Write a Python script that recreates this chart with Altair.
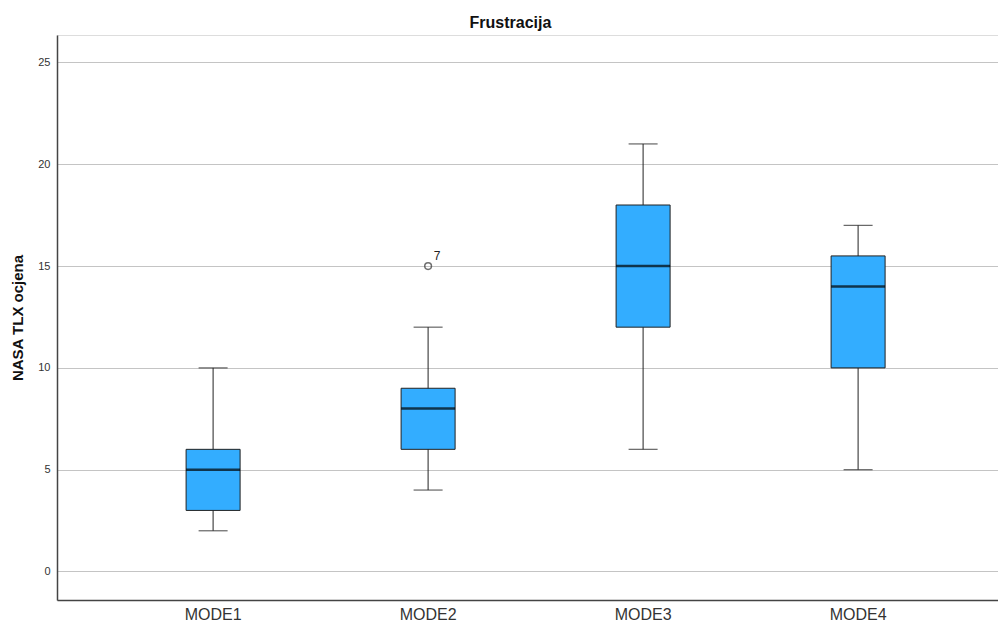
import altair as alt
import pandas as pd

modes = ["MODE1", "MODE2", "MODE3", "MODE4"]
whisker_low = [2, 4, 6, 5]
q1 = [3, 6, 12, 10]
median = [5, 8, 15, 14]
q3 = [6, 9, 18, 15.5]
whisker_high = [10, 12, 21, 17]

outlier_mode = ["MODE2"]
outlier_value = [15]
outlier_label = ["7"]

box = pd.DataFrame({"mode": modes, "low": whisker_low, "q1": q1, "med": median,
                    "q3": q3, "high": whisker_high})
out = pd.DataFrame({"mode": outlier_mode, "v": outlier_value, "lab": outlier_label})

FONT = "Liberation Sans"
W, H = 941, 565

xscale = alt.Scale(domain=modes, paddingInner=0, paddingOuter=0.1884, align=0.6)
yscale = alt.Scale(domain=[-1.4, 26.35], nice=False, zero=False)

x = alt.X("mode:N", scale=xscale, sort=modes,
          axis=alt.Axis(title=None, labelAngle=0, labelFontSize=16, labelColor="#333333",
                        labelFont=FONT, ticks=False, labelPadding=6,
                        domainColor="#444444", domainWidth=1.5, grid=False))
y_axis = alt.Axis(title="NASA TLX ocjena", values=[0, 5, 10, 15, 20, 25], labelFontSize=11,
                  labelColor="#333333", labelFont=FONT, ticks=False, labelPadding=7,
                  titleFontSize=15, titleFont=FONT, titleFontWeight="bold",
                  titleColor="#111111", titlePadding=12, domainColor="#444444",
                  domainWidth=1.5, grid=True, gridColor="#c4c4c4", gridWidth=1)

base = alt.Chart(box)

whiskers = base.mark_rule(color="#222222", strokeWidth=1).encode(
    x=x, y=alt.Y("low:Q", scale=yscale, axis=y_axis), y2="high:Q")
caps_low = base.mark_tick(color="#222222", thickness=1.2, size=29).encode(
    x=x, y=alt.Y("low:Q", scale=yscale))
caps_high = base.mark_tick(color="#222222", thickness=1.2, size=29).encode(
    x=x, y=alt.Y("high:Q", scale=yscale))
boxes = base.mark_bar(size=54, color="#33adff", stroke="#222222", strokeWidth=1).encode(
    x=x, y=alt.Y("q1:Q", scale=yscale), y2="q3:Q")
med = base.mark_tick(color="#000000", thickness=2.5, size=54).encode(
    x=x, y=alt.Y("med:Q", scale=yscale))

ob = alt.Chart(out)
opts = ob.mark_point(shape="circle", filled=False, color="#333333", size=45,
                     strokeWidth=1.5).encode(x=x, y=alt.Y("v:Q", scale=yscale))
olab = ob.mark_text(dx=9, dy=-10, fontSize=12, font=FONT, color="#222222").encode(
    x=x, y=alt.Y("v:Q", scale=yscale), text="lab:N")

chart = alt.layer(whiskers, caps_low, caps_high, boxes, med, opts, olab).properties(
    width=W, height=H,
    title=alt.TitleParams("Frustracija", fontSize=16, font=FONT, fontWeight="bold",
                          color="#111111", offset=4, dx=-17),
    autosize=alt.AutoSizeParams(type="none"),
    padding={"left": 49, "top": 27, "right": 0, "bottom": 27},
).configure_view(stroke=None).configure(background="white")

chart.save("out.html", embed_options={"renderer": "svg", "actions": False})
